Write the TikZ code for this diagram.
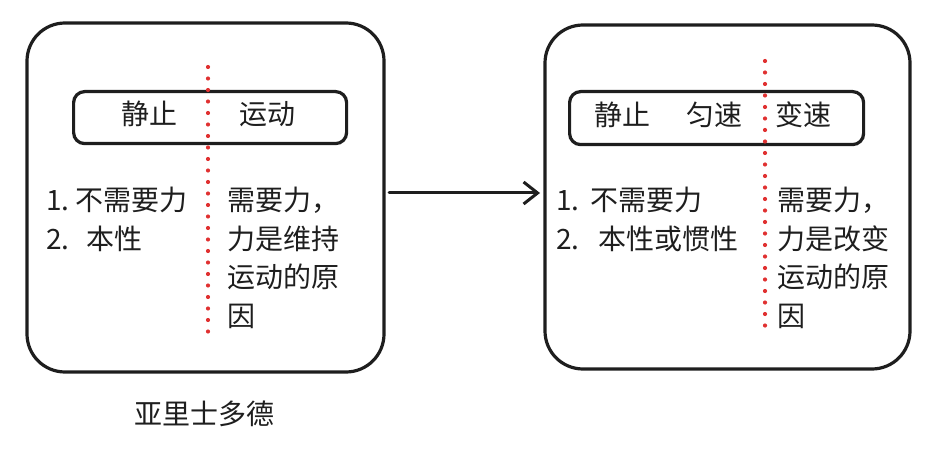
\documentclass[tikz,border=0pt]{standalone}
\usepackage{fontspec}
\setmainfont{Noto Sans CJK SC}
\usetikzlibrary{arrows.meta}
\definecolor{ink}{HTML}{1E1E1E}
\definecolor{redink}{HTML}{E03131}
\begin{document}
\begin{tikzpicture}[x=1pt,y=-1pt,
  bigbox/.style={draw=ink,line width=3.2pt,rounded corners=38pt},
  innerbox/.style={draw=ink,line width=3.2pt,rounded corners=11pt},
  divider/.style={draw=redink,line width=4.2pt,line cap=round,dash pattern=on 0pt off 11.5pt},
  txt/.style={text=ink,inner sep=0pt,font=\fontsize{28}{38.5}\selectfont},
  arr/.style={draw=ink,line width=3pt,line cap=round,-{Straight Barb[length=14pt,width=22pt,line width=3pt]}}]
\useasboundingbox (0,0) rectangle (934,449);
% left panel
\draw[bigbox] (27,23) rectangle (384,372);
\node[innerbox,minimum width=273pt,minimum height=52pt,anchor=north west,inner sep=0pt] (LI) at (72,90) {};
\draw[divider] (208,67) coordinate (LD1) -- (208,338) coordinate (LD2);
\node[txt] (L1) at (149,114) {静止};
\node[txt] (L2) at (267,114) {运动};
\node[txt,anchor=north west,align=left] (LL) at (46,187) {1.\ 不需要力\\2.\ \ \,本性};
\node[txt,anchor=north west,align=left] (LR) at (227,187) {需要力，\\力是维持\\运动的原\\因};
\node[txt] (LN) at (204,414) {亚里士多德};
% right panel
\draw[bigbox] (545,25) rectangle (910,369);
\node[innerbox,minimum width=294pt,minimum height=53pt,anchor=north west,inner sep=0pt] (RI) at (568,90) {};
\draw[divider] (765,61) coordinate (RD1) -- (765,335) coordinate (RD2);
\node[txt,anchor=west] (R1) at (594,115) {静止};
\node[txt,anchor=west] (R2) at (686,115) {匀速};
\node[txt,anchor=west] (R3) at (775,115) {变速};
\node[txt,anchor=north west,align=left] (RL) at (556,187) {1.\ \,不需要力\\2.\ \ \ 本性或惯性};
\node[txt,anchor=north west,align=left] (RR) at (777,187) {需要力，\\力是改变\\运动的原\\因};
% arrow
\coordinate (A1) at (389,193);
\coordinate (A2) at (540,193);
\draw[arr] (A1) -- (A2);
\end{tikzpicture}
\end{document}
